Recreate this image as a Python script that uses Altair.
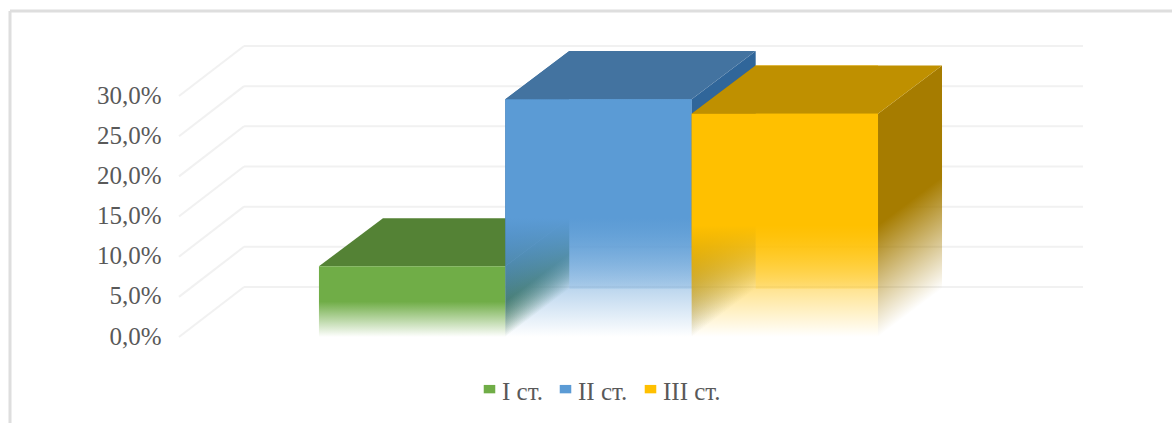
import altair as alt
import pandas as pd

# Severity groups and their share of patients, percent
series = ["I ст.", "II ст.", "III ст."]
values = [8.8, 29.6, 27.8]
front_colors = ["#70AD47", "#5B9BD5", "#FFC000"]
top_colors = ["#548235", "#4373A0", "#BF9000"]
side_colors = ["#4A7A30", "#30669A", "#A67C00"]
grid_levels = [0, 5, 10, 15, 20, 25, 30]

# Oblique projection: depth expressed in axis units
BAR_DEPTH_X = 0.3435
BAR_DEPTH_Y = 6.0
WALL_DEPTH_X = 0.349
WALL_DEPTH_Y = 6.23
X_MIN = -0.751
X_MAX = 4.1
Y_MAX = 36.23
GRID = "#F1F1F1"

x_scale = alt.Scale(domain=[X_MIN, X_MAX], nice=False, zero=False)
y_scale = alt.Scale(domain=[0, Y_MAX], nice=False, zero=False)

# Percent labels with a decimal comma; every layer shares this definition
y_axis = alt.Axis(
    values=grid_levels,
    title=None,
    domain=False,
    ticks=False,
    grid=False,
    labelPadding=18,
    labelOffset=-1,
    labelFont="Liberation Serif",
    labelFontSize=25,
    labelColor="#595959",
    labelExpr="replace(format(datum.value, '.1f'), '.', ',') + '%'",
)


def low_alpha(a):
    return format(int(round(a * 255)), "02x")


def fade(color, x1=0.0, y1=0.0, x2=0.0, y2=1.0, low=0.0):
    """Solid colour over the upper half, dissolving towards the base."""
    return alt.Gradient(
        gradient="linear",
        x1=x1, y1=y1, x2=x2, y2=y2,
        stops=[
            alt.GradientStop(offset=0, color=color),
            alt.GradientStop(offset=0.5, color=color),
            alt.GradientStop(offset=1, color=color + low_alpha(low)),
        ],
    )


def face(rows, fill):
    df = pd.DataFrame(rows, columns=["px", "upper", "lower"])
    return alt.Chart(df).mark_area(color=fill, line=False, orient="vertical").encode(
        x=alt.X("px:Q", scale=x_scale, axis=None),
        y=alt.Y("upper:Q", scale=y_scale, axis=y_axis),
        y2="lower:Q",
    )


def bar_layers(i):
    x0, x1 = float(i), float(i + 1)
    v = values[i]
    dx, dy = BAR_DEPTH_X, BAR_DEPTH_Y

    # Side faces fade along the bar's height, so the gradient's isolines
    # run parallel to the receding edge inside the face's bounding box
    total = v + dy
    k = v / (dy * dy + total * total)
    start = dy / total
    slant = dict(x1=0.0, y1=start, x2=dy * k, y2=start + total * k)

    # The far wall stops at the front's right edge; the side face covers the rest
    back = face([(x0 + dx, v + dy, dy), (x1, v + dy, dy)],
                fade(front_colors[i], low=0.18))
    left = face([(x0, v, 0), (x0 + dx, v + dy, dy)],
                fade(side_colors[i], **slant))
    right = face([(x1, v, 0), (x1 + dx, v + dy, dy)],
                 fade(side_colors[i], **slant))
    top = face([(x0, v, v), (x0 + dx, v + dy, v), (x1, v + dy, v),
                (x1 + dx, v + dy, v + dy)], top_colors[i])
    front = face([(x0, v, 0), (x1, v, 0)], fade(front_colors[i]))

    # The shortest bar is nearly opaque where its inner faces would show
    inner = [right] if i == 0 else [back, left, right]
    return inner + [top, front]


# Back wall lines and their receding continuation on the side wall
walls = pd.DataFrame({"level": grid_levels})
walls["wall_y"] = walls["level"] + WALL_DEPTH_Y
walls["left"] = X_MIN
walls["inner"] = X_MIN + WALL_DEPTH_X
walls["right"] = X_MAX

wall_lines = alt.Chart(walls).mark_rule(color=GRID, strokeWidth=2).encode(
    x=alt.X("inner:Q", scale=x_scale, axis=None),
    x2="right:Q",
    y=alt.Y("wall_y:Q", scale=y_scale, axis=y_axis),
)
side_lines = alt.Chart(walls).mark_rule(color=GRID, strokeWidth=2).encode(
    x=alt.X("left:Q", scale=x_scale, axis=None),
    x2="inner:Q",
    y=alt.Y("level:Q", scale=y_scale, axis=y_axis),
    y2="wall_y:Q",
)

legend_layer = alt.Chart(pd.DataFrame({"series": series, "px": [0.0] * 3, "level": [0.0] * 3})).mark_square(opacity=0).encode(
    x=alt.X("px:Q", scale=x_scale, axis=None),
    y=alt.Y("level:Q", scale=y_scale, axis=y_axis),
    color=alt.Color(
        "series:N",
        scale=alt.Scale(domain=series, range=front_colors),
        legend=alt.Legend(
            title=None,
            orient="none",
            legendX=298,
            legendY=333,
            direction="horizontal",
            columns=3,
            # Flat swatch sitting slightly above the label's centre line
            symbolType="M-1.1,-1.3H1.1V0.3H-1.1Z",
            symbolSize=110,
            symbolOpacity=1,
            symbolStrokeWidth=0,
            columnPadding=10,
            labelFont="Liberation Serif",
            labelFontSize=25,
            labelColor="#595959",
            labelOffset=0,
        ),
    ),
)

# Card outline: only the top and left edges fall on the page
CARD = "#DEDEDE"
one = pd.DataFrame({"a": [0]})
card_top = alt.Chart(one).mark_rule(color=CARD, strokeWidth=3, clip=False).encode(
    x=alt.value(-169), x2=alt.value(993), y=alt.value(-35)
)
card_left = alt.Chart(one).mark_rule(color=CARD, strokeWidth=3, clip=False).encode(
    x=alt.value(-169), y=alt.value(-35), y2=alt.value(377)
)

layers = [card_top, card_left, wall_lines, side_lines, legend_layer]
for i in range(len(series)):
    layers.extend(bar_layers(i))

chart = alt.layer(*layers).properties(
    width=904,
    height=291,
    padding={"left": 179, "top": 46, "right": 89, "bottom": 86},
    autosize=alt.AutoSizeParams(type="none"),
    background="white",
).configure_view(stroke=None)

chart.save("out.html", embed_options={"renderer": "svg", "actions": False})
